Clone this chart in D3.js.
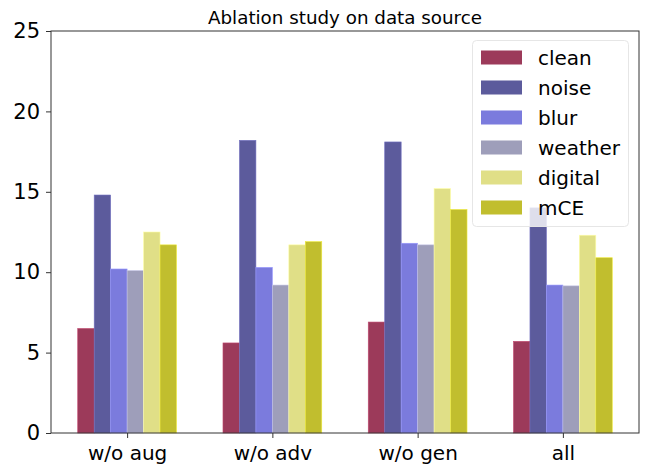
<!DOCTYPE html>
<html>
<head>
<meta charset="utf-8">
<script src="https://cdn.jsdelivr.net/npm/d3@7"></script>
<style>
  body { margin: 0; background: #fff; }
  text { font-family: "DejaVu Sans", sans-serif; }
</style>
</head>
<body>
<div id="chart"></div>
<script>
// data
var groups = ["w/o aug", "w/o adv", "w/o gen", "all"];
var series = ["clean", "noise", "blur", "weather", "digital", "mCE"];
var clean   = [6.5, 5.6, 6.9, 5.7];
var noise   = [14.8, 18.2, 18.1, 14.0];
var blur    = [10.2, 10.3, 11.8, 9.2];
var weather = [10.1, 9.2, 11.7, 9.15];
var digital = [12.5, 11.7, 15.2, 12.3];
var mCE     = [11.7, 11.9, 13.9, 10.9];
var yTicks  = [0, 5, 10, 15, 20, 25];

var values = [clean, noise, blur, weather, digital, mCE];
var colors = ["#9c3a5a", "#5c5b9c", "#7b7bdd", "#9e9eba", "#e0df87", "#c1be2e"];

var width = 649, height = 466;
var margin = {top: 31, right: 10, bottom: 33, left: 51};

var svg = d3.select("#chart").append("svg")
  .attr("width", width)
  .attr("height", height);

var barW = 0.68 / 6;
var x = d3.scaleLinear()
  .domain([-0.524, 3.524])
  .range([margin.left, width - margin.right]);
var y = d3.scaleLinear()
  .domain([0, 25])
  .range([height - margin.bottom, margin.top]);

// bars
series.forEach(function(s, si) {
  svg.append("g")
    .selectAll("rect")
    .data(values[si])
    .enter()
    .append("rect")
    .attr("x", function(d, i) { return x(i - 0.34 + si * barW); })
    .attr("width", x(barW) - x(0))
    .attr("y", function(d) { return y(d); })
    .attr("height", function(d) { return y(0) - y(d); })
    .attr("fill", colors[si])
    .attr("stroke", d3.color(colors[si]).brighter(0.6))
    .attr("stroke-width", 0.6);
});

// axes
var yAxis = svg.append("g")
  .attr("transform", "translate(" + margin.left + ",0)")
  .call(d3.axisLeft(y).tickValues(yTicks).tickSize(5).tickPadding(6));
var xAxis = svg.append("g")
  .attr("transform", "translate(0," + (height - margin.bottom) + ")")
  .call(d3.axisBottom(x).tickValues([0, 1, 2, 3])
    .tickFormat(function(d) { return groups[d]; })
    .tickSize(5).tickPadding(8));
yAxis.selectAll("text").style("font-size", "21px").attr("fill", "#000");
xAxis.selectAll("text").style("font-size", "20px").attr("fill", "#000");
[yAxis, xAxis].forEach(function(a) {
  a.selectAll("line").attr("stroke", "#333");
  a.select(".domain").remove();
});

// frame
svg.append("rect")
  .attr("x", margin.left)
  .attr("y", margin.top)
  .attr("width", width - margin.right - margin.left)
  .attr("height", height - margin.bottom - margin.top)
  .attr("fill", "none")
  .attr("stroke", "#333")
  .attr("stroke-width", 1);

// title
svg.append("text")
  .attr("x", (margin.left + width - margin.right) / 2)
  .attr("y", 24)
  .attr("text-anchor", "middle")
  .style("font-size", "18.3px")
  .text("Ablation study on data source");

// legend
var lg = svg.append("g");
lg.append("rect")
  .attr("x", 472.5)
  .attr("y", 40.5)
  .attr("width", 156)
  .attr("height", 186)
  .attr("rx", 4)
  .attr("fill", "#fff")
  .attr("fill-opacity", 0.8)
  .attr("stroke", "#e6e6e6");
series.forEach(function(s, si) {
  lg.append("rect")
    .attr("x", 481)
    .attr("y", 50.5 + si * 30)
    .attr("width", 41)
    .attr("height", 14)
    .attr("fill", colors[si]);
  lg.append("text")
    .attr("x", 538)
    .attr("y", 64.5 + si * 30)
    .style("font-size", "20px")
    .text(s);
});
</script>
</body>
</html>
